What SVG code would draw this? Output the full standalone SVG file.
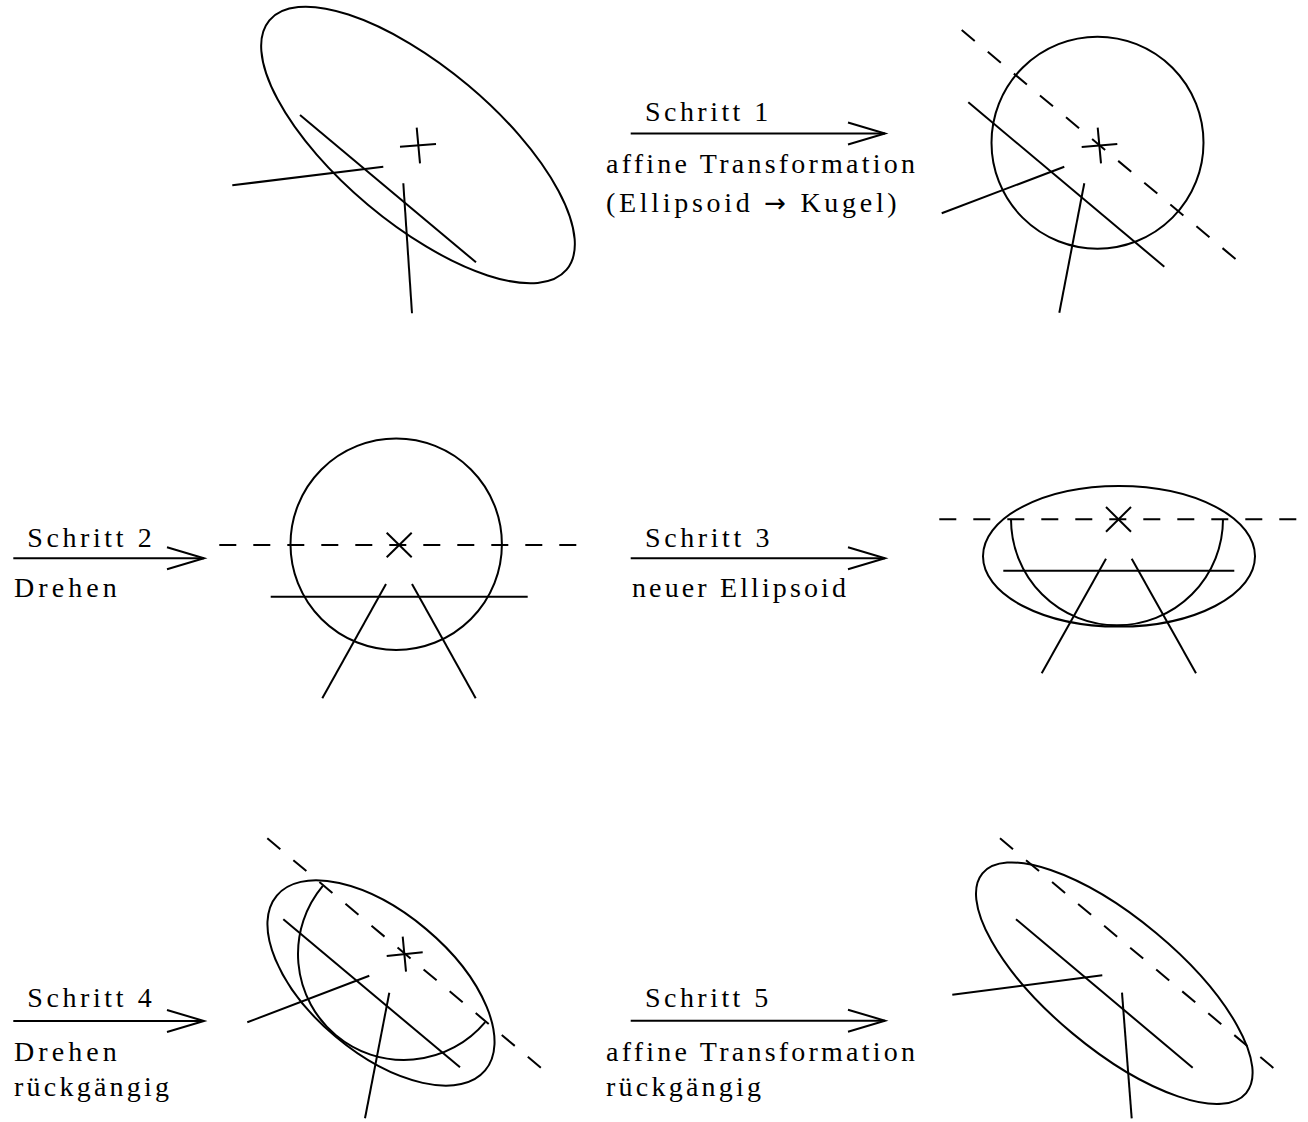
<svg xmlns="http://www.w3.org/2000/svg" width="1308" height="1122" viewBox="0 0 1308 1122">
<style>
.s{fill:none;stroke:#000;stroke-width:2}
.d{fill:none;stroke:#000;stroke-width:2;stroke-dasharray:17 17}
text{font-family:"Liberation Serif","Times New Roman",serif;font-size:28px;fill:#000}
.ar{font-family:"DejaVu Sans",sans-serif;font-size:26px}
</style>
<defs>
<marker id="ah" markerWidth="40" markerHeight="24" refX="37" refY="11" orient="auto" markerUnits="userSpaceOnUse" overflow="visible">
<path d="M0,0 L37,11 L0,22" fill="none" stroke="#000" stroke-width="2"/>
</marker>
</defs>
<rect width="1308" height="1122" fill="#fff"/>

<g id="panel1">
<ellipse class="s" cx="418" cy="145" rx="194" ry="78" transform="rotate(40 418 145)"/>
<line class="s" x1="300" y1="115" x2="476" y2="262.3"/>
<line class="s" x1="232.3" y1="185.3" x2="383.3" y2="166.7"/>
<line class="s" x1="403.3" y1="183.3" x2="412" y2="313.3"/>
<line class="s" x1="400" y1="146.7" x2="436" y2="144"/>
<line class="s" x1="416.7" y1="127.7" x2="420" y2="163.3"/>
</g>

<g id="panel2">
<circle class="s" cx="1097.5" cy="142.7" r="106"/>
<line class="d" x1="961.7" y1="30" x2="1236.7" y2="260"/>
<line class="s" x1="968.3" y1="102.3" x2="1164.3" y2="266.7"/>
<line class="s" x1="941.7" y1="213.3" x2="1064.3" y2="166.7"/>
<line class="s" x1="1084.3" y1="183.3" x2="1059.3" y2="312.7"/>
<line class="s" x1="1081.7" y1="147" x2="1117.3" y2="144"/>
<line class="s" x1="1097.7" y1="127.7" x2="1101" y2="163.3"/>
</g>

<g id="panel3">
<circle class="s" cx="396.2" cy="544.2" r="105.7"/>
<line class="d" x1="219.3" y1="545" x2="580" y2="545"/>
<line class="s" x1="386.7" y1="532.7" x2="411.7" y2="557.3"/>
<line class="s" x1="386.7" y1="557.3" x2="411.7" y2="532.7"/>
<line class="s" x1="270.7" y1="596.7" x2="527.7" y2="596.7"/>
<line class="s" x1="386" y1="584" x2="322.3" y2="698.3"/>
<line class="s" x1="412" y1="584" x2="475.7" y2="698.3"/>
</g>

<g id="panel4">
<ellipse class="s" cx="1119" cy="556.3" rx="136" ry="70.3"/>
<line class="d" x1="939.3" y1="519.3" x2="1300" y2="519.3"/>
<path class="s" d="M1011,519.3 A106,106 0 0 0 1223,519.3"/>
<line class="s" x1="1106" y1="507" x2="1131" y2="531.7"/>
<line class="s" x1="1106" y1="531.7" x2="1131" y2="507"/>
<line class="s" x1="1003.3" y1="570.7" x2="1234.3" y2="570.7"/>
<line class="s" x1="1106" y1="558.7" x2="1041.7" y2="673.3"/>
<line class="s" x1="1131.7" y1="558.7" x2="1196" y2="673.3"/>
</g>

<g id="panel5">
<g transform="rotate(40 404 954)">
<ellipse class="s" cx="405" cy="991" rx="136" ry="70.3"/>
<path class="s" d="M298,954 A106,106 0 0 0 510,954"/>
</g>
<line class="d" x1="267.3" y1="838.3" x2="542.7" y2="1069.3"/>
<line class="s" x1="283.3" y1="919.3" x2="460" y2="1067.3"/>
<line class="s" x1="247.3" y1="1022.3" x2="369.3" y2="975.7"/>
<line class="s" x1="389.3" y1="992.7" x2="365" y2="1118.3"/>
<line class="s" x1="386.7" y1="956" x2="422.7" y2="952.3"/>
<line class="s" x1="402.7" y1="936.7" x2="406" y2="971.7"/>
</g>

<g id="panel6">
<ellipse class="s" cx="1114.3" cy="983.2" rx="171.6" ry="65.3" transform="rotate(39.8 1114.3 983.2)"/>
<line class="d" x1="1000" y1="838.3" x2="1275" y2="1069.3"/>
<line class="s" x1="1016" y1="919.3" x2="1192.7" y2="1067.7"/>
<line class="s" x1="952.3" y1="994.7" x2="1102.3" y2="975.3"/>
<line class="s" x1="1122" y1="992.7" x2="1131.7" y2="1118.3"/>
</g>

<g id="connectors">
<line class="s" x1="630.7" y1="133.5" x2="885" y2="133.5" marker-end="url(#ah)"/>
<line class="s" x1="13.3" y1="558.3" x2="204" y2="558.3" marker-end="url(#ah)"/>
<line class="s" x1="630.7" y1="558.3" x2="885" y2="558.3" marker-end="url(#ah)"/>
<line class="s" x1="13.3" y1="1021" x2="204" y2="1021" marker-end="url(#ah)"/>
<line class="s" x1="630.7" y1="1020.7" x2="885" y2="1020.7" marker-end="url(#ah)"/>
</g>

<g id="labels">
<text x="645" y="121" textLength="123.3" lengthAdjust="spacing">Schritt 1</text>
<text x="606" y="172.5" textLength="309" lengthAdjust="spacing">affine Transformation</text>
<text x="606" y="212" textLength="290.7" lengthAdjust="spacing">(Ellipsoid <tspan class="ar">→</tspan> Kugel)</text>
<text x="27.3" y="546.5" textLength="124.4" lengthAdjust="spacing">Schritt 2</text>
<text x="14" y="597" textLength="102.7" lengthAdjust="spacing">Drehen</text>
<text x="645" y="546.5" textLength="124.4" lengthAdjust="spacing">Schritt 3</text>
<text x="632" y="597" textLength="214" lengthAdjust="spacing">neuer Ellipsoid</text>
<text x="27.3" y="1007" textLength="124.4" lengthAdjust="spacing">Schritt 4</text>
<text x="14" y="1061" textLength="102.7" lengthAdjust="spacing">Drehen</text>
<text x="14" y="1096" textLength="155" lengthAdjust="spacing">rückgängig</text>
<text x="645" y="1007" textLength="123.3" lengthAdjust="spacing">Schritt 5</text>
<text x="606" y="1061" textLength="309" lengthAdjust="spacing">affine Transformation</text>
<text x="606" y="1096" textLength="155" lengthAdjust="spacing">rückgängig</text>
</g>
</svg>
